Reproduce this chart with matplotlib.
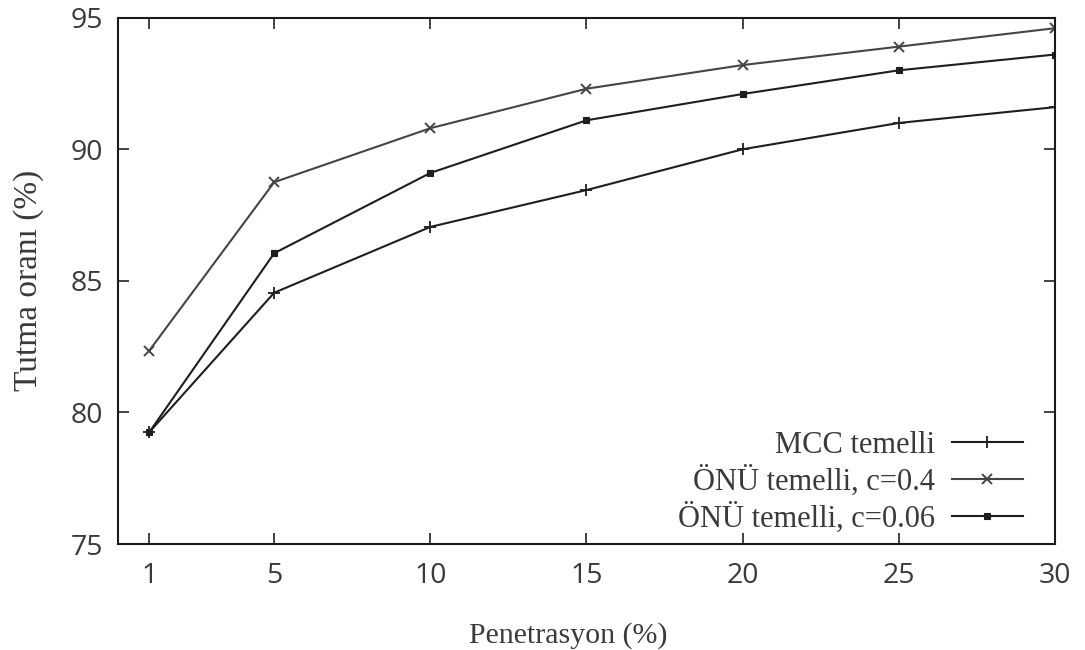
import matplotlib
matplotlib.use("Agg")
import matplotlib.pyplot as plt

# Penetration levels (%) and retention rates (%) for each method
penetrasyon = [1, 5, 10, 15, 20, 25, 30]
mcc_temelli = [79.25, 84.55, 87.05, 88.45, 90.0, 91.0, 91.6]
onu_c04 = [82.35, 88.75, 90.8, 92.3, 93.2, 93.9, 94.6]
onu_c006 = [79.25, 86.05, 89.1, 91.1, 92.1, 93.0, 93.6]

series_labels = ["MCC temelli", "ÖNÜ temelli, c=0.4", "ÖNÜ temelli, c=0.06"]
x_ticks = [1, 5, 10, 15, 20, 25, 30]
y_ticks = [75, 80, 85, 90, 95]

plt.rcParams["font.family"] = ["Liberation Serif", "DejaVu Serif"]
text_color = "#3a3a3a"
tick_font = {"family": ["Open Sans", "DejaVu Sans"], "size": 20.5}

fig = plt.figure(figsize=(10.85, 6.5), dpi=100)
ax = fig.add_axes([0.1088, 0.163, 0.8635, 0.8098])

ax.plot(penetrasyon, mcc_temelli, color="#1e1e1e", lw=1.5, marker="+",
        ms=9, mew=1.3, label=series_labels[0])
ax.plot(penetrasyon, onu_c04, color="#454545", lw=1.5, marker="x",
        ms=7, mew=1.4, label=series_labels[1])
ax.plot(penetrasyon, onu_c006, color="#1e1e1e", lw=1.5, marker="s",
        ms=5, mew=0.8, label=series_labels[2])

ax.set_xlim(0, 30)
ax.set_ylim(75, 95)
ax.set_xticks(x_ticks)
ax.set_yticks(y_ticks)
ax.set_xticklabels([str(v) for v in x_ticks], fontdict=tick_font)
ax.set_yticklabels([str(v) for v in y_ticks], fontdict=tick_font)

ax.tick_params(direction="in", length=8, width=1.2, top=True, right=True,
               colors="#222222", labelcolor=text_color)
ax.tick_params(axis="x", pad=13)
ax.tick_params(axis="y", pad=11)
for s in ax.spines.values():
    s.set_linewidth(1.5)
    s.set_color("#1a1a1a")

ax.set_xlabel("Penetrasyon (%)", fontsize=21.5, color=text_color, labelpad=19)
ax.xaxis.set_label_coords(0.48, -0.148)
ax.set_ylabel("Tutma oranı (%)", fontsize=24, color=text_color, labelpad=19)

leg = ax.legend(loc="lower right", bbox_to_anchor=(0.9655, 0.02),
                frameon=False, markerfirst=False, fontsize=22,
                handlelength=2.3, handletextpad=0.56, labelspacing=0.18,
                borderaxespad=0, borderpad=0)
for t in leg.get_texts():
    t.set_color(text_color)

fig.savefig("out.png", dpi=100)
